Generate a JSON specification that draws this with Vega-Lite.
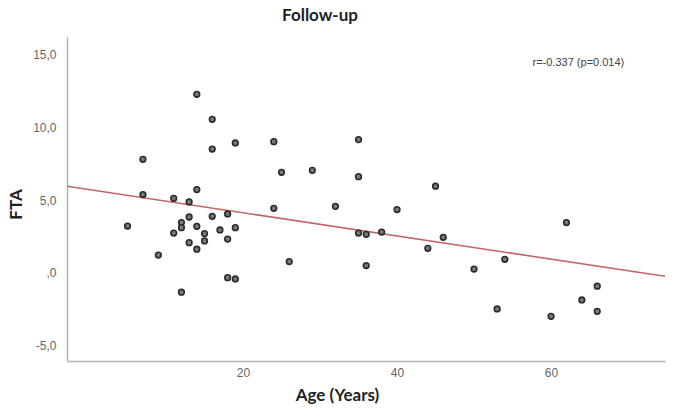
{
  "$schema": "https://vega.github.io/schema/vega-lite/v6.json",
  "autosize": "none",
  "width": 598,
  "height": 324,
  "padding": {"left": 67, "top": 37, "right": 9, "bottom": 50},
  "background": "white",
  "config": {
    "view": {"stroke": null},
    "font": "Liberation Sans",
    "axis": {"labelFont": "Liberation Sans"}
  },
  "title": {
    "text": "Follow-up",
    "font": "Lato",
    "fontSize": 17,
    "fontWeight": "bold",
    "color": "#222",
    "anchor": "middle",
    "dx": -46,
    "offset": 12
  },
  "datasets": {
    "points": [
      {"age": 5, "fta": 3.22}, {"age": 7, "fta": 7.8}, {"age": 7, "fta": 5.38},
      {"age": 9, "fta": 1.23}, {"age": 11, "fta": 5.12}, {"age": 11, "fta": 2.74},
      {"age": 12, "fta": 3.46}, {"age": 12, "fta": 3.11}, {"age": 12, "fta": -1.32},
      {"age": 13, "fta": 4.87}, {"age": 13, "fta": 3.84}, {"age": 13, "fta": 2.08},
      {"age": 14, "fta": 12.26}, {"age": 14, "fta": 5.72}, {"age": 14, "fta": 3.2},
      {"age": 14, "fta": 1.63}, {"age": 15, "fta": 2.7}, {"age": 15, "fta": 2.2},
      {"age": 16, "fta": 10.54}, {"age": 16, "fta": 8.5}, {"age": 16, "fta": 3.89},
      {"age": 17, "fta": 2.95}, {"age": 18, "fta": 4.05}, {"age": 18, "fta": 2.33},
      {"age": 18, "fta": -0.32}, {"age": 19, "fta": 8.92}, {"age": 19, "fta": 3.11},
      {"age": 19, "fta": -0.41}, {"age": 24, "fta": 9.01}, {"age": 24, "fta": 4.44},
      {"age": 25, "fta": 6.91}, {"age": 26, "fta": 0.78}, {"age": 29, "fta": 7.04},
      {"age": 32, "fta": 4.57}, {"age": 35, "fta": 9.15}, {"age": 35, "fta": 6.61},
      {"age": 35, "fta": 2.74}, {"age": 36, "fta": 2.65}, {"age": 36, "fta": 0.51},
      {"age": 38, "fta": 2.81}, {"age": 40, "fta": 4.35}, {"age": 44, "fta": 1.69},
      {"age": 45, "fta": 5.95}, {"age": 46, "fta": 2.45}, {"age": 50, "fta": 0.27},
      {"age": 53, "fta": -2.47}, {"age": 54, "fta": 0.94}, {"age": 60, "fta": -2.97},
      {"age": 62, "fta": 3.46}, {"age": 64, "fta": -1.85}, {"age": 66, "fta": -0.91},
      {"age": 66, "fta": -2.63}
    ],
    "fit": [
      {"age": -2.86, "fta": 5.95},
      {"age": 74.8, "fta": -0.23}
    ],
    "note": [
      {"label": "r=-0.337 (p=0.014)"}
    ]
  },
  "layer": [
    {
      "data": {"name": "fit"},
      "mark": {"type": "line", "color": "#c46464", "strokeWidth": 1.6, "clip": true},
      "encoding": {
        "x": {
          "field": "age", "type": "quantitative",
          "scale": {"domain": [-2.86, 74.8], "nice": false, "zero": false},
          "axis": {
            "title": "Age (Years)",
            "values": [20, 40, 60],
            "grid": false,
            "ticks": false,
            "domainColor": "#b5b5b5",
            "domainWidth": 1.5,
            "labelColor": "#666",
            "labelFontSize": 12,
            "labelPadding": 6,
            "titleFont": "Lato",
            "titleFontSize": 17,
            "titleFontWeight": "bold",
            "titleColor": "#222",
            "titleX": 270,
            "titleY": 34,
            "titleBaseline": "middle",
            "titleAnchor": "start",
            "titleAlign": "center"
          }
        },
        "y": {
          "field": "fta", "type": "quantitative",
          "scale": {"domain": [-6.04, 16.19], "nice": false, "zero": false},
          "axis": {
            "title": "FTA",
            "values": [-5, 0, 5, 10, 15],
            "labelExpr": "datum.value == 0 ? ',0' : replace(replace(format(datum.value, '.1f'), '.', ','), '\u2212', '-')",
            "grid": false,
            "ticks": false,
            "domainColor": "#b5b5b5",
            "domainWidth": 1.5,
            "labelColor": "#666",
            "labelFontSize": 12,
            "labelPadding": 11,
            "titleFont": "Lato",
            "titleFontSize": 17,
            "titleFontWeight": "bold",
            "titleColor": "#222",
            "titleX": -51,
            "titleY": 167,
            "titleAngle": -90,
            "titleBaseline": "middle",
            "titleAlign": "center",
            "titleAnchor": "start"
          }
        }
      }
    },
    {
      "data": {"name": "points"},
      "mark": {"type": "point", "shape": "circle", "filled": true, "size": 32, "fill": "#7a7a7a", "stroke": "#2a2a2a", "strokeWidth": 1.6, "opacity": 1},
      "encoding": {
        "x": {"field": "age", "type": "quantitative"},
        "y": {"field": "fta", "type": "quantitative"}
      }
    },
    {
      "data": {"name": "note"},
      "mark": {"type": "text", "fontSize": 11, "color": "#444", "align": "center", "baseline": "middle"},
      "encoding": {
        "x": {"datum": 63.55, "type": "quantitative"},
        "y": {"datum": 14.38, "type": "quantitative"},
        "text": {"field": "label"}
      }
    }
  ]
}
